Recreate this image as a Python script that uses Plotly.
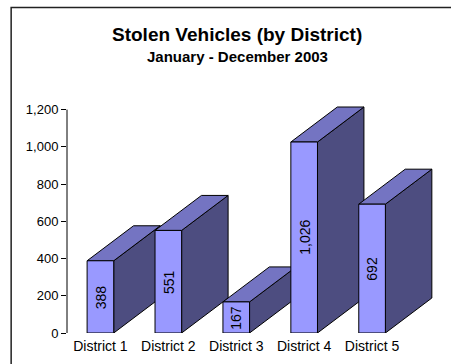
import plotly.graph_objects as go

# Stolen vehicles per district, Jan-Dec 2003
districts = ["District 1", "District 2", "District 3", "District 4", "District 5"]
stolen = [388, 551, 167, 1026, 692]
y_ticks = [0, 200, 400, 600, 800, 1000, 1200]
y_tick_text = ["0", "200", "400", "600", "800", "1,000", "1,200"]

FRONT = "#9999FF"
TOP = "#7474C2"
SIDE = "#4D4D80"
EDGE = "#000000"
FONT = "Liberation Sans, Arial, sans-serif"

# pseudo-3D box geometry in axis units
half_w = 0.196      # half width of the front face
depth_x = 0.684     # receding depth along x
depth_y = 188       # receding depth along y

# page layout (pixels)
W, H = 451, 364
ML, MR, MT, MB = 66.5, 10.5, 91, 31
PW, PH = W - ML - MR, H - MT - MB

fig = go.Figure()


def poly(xs, ys, color):
    fig.add_trace(go.Scatter(
        x=xs + [xs[0]], y=ys + [ys[0]], mode="lines", fill="toself",
        fillcolor=color, line=dict(color=EDGE, width=1),
        hoverinfo="skip", showlegend=False))


for i, v in enumerate(stolen):
    x0, x1 = i - half_w, i + half_w
    # right side face
    poly([x1, x1 + depth_x, x1 + depth_x, x1],
         [0, depth_y, v + depth_y, v], SIDE)
    # top face
    poly([x0, x1, x1 + depth_x, x0 + depth_x],
         [v, v, v + depth_y, v + depth_y], TOP)
    # front face
    poly([x0, x1, x1, x0], [0, 0, v, v], FRONT)
    # value label, rotated inside the front face
    fig.add_annotation(x=i, y=v / 2, xref="x", yref="y",
                       text=f"{v:,}", textangle=-90, showarrow=False,
                       font=dict(family=FONT, size=14, color="#000000"))

# y axis line only spans the labelled range
fig.add_shape(type="line", xref="paper", yref="y", x0=0, x1=0,
              y0=y_ticks[0], y1=y_ticks[-1],
              line=dict(color=EDGE, width=1))

# outer chart border
fig.add_shape(type="rect", xref="paper", yref="paper",
              x0=(10.5 - ML) / PW, x1=(W + 20 - ML) / PW,
              y0=(MB - 40 - MB) / PH, y1=(H - MB - 7.5) / PH,
              line=dict(color="#222222", width=1.5))

cx = (237 - ML) / PW
fig.add_annotation(x=cx, y=(H - MB - 34.5) / PH, xref="paper", yref="paper",
                   text="<b>Stolen Vehicles (by District)</b>", showarrow=False,
                   font=dict(family=FONT, size=19, color="#000000"),
                   xanchor="center", yanchor="middle")
fig.add_annotation(x=cx, y=(H - MB - 56.5) / PH, xref="paper", yref="paper",
                   text="<b>January - December 2003</b>", showarrow=False,
                   font=dict(family=FONT, size=15, color="#000000"),
                   xanchor="center", yanchor="middle")

fig.update_layout(
    width=W, height=H,
    margin=dict(l=ML, r=MR, t=MT, b=MB, pad=0, autoexpand=False),
    paper_bgcolor="#FFFFFF", plot_bgcolor="#FFFFFF",
    showlegend=False,
    xaxis=dict(range=[-0.492, 5.0], tickvals=list(range(len(districts))),
               ticktext=districts, showgrid=False, zeroline=False,
               showline=False, ticks="", ticklabelstandoff=3,
               automargin=False,
               tickfont=dict(family=FONT, size=14, color="#000000")),
    yaxis=dict(range=[0, 1300], tickvals=y_ticks, ticktext=y_tick_text,
               showgrid=False, zeroline=False, showline=False,
               ticks="outside", ticklen=5, tickcolor=EDGE, tickwidth=1,
               automargin=False,
               tickfont=dict(family=FONT, size=13, color="#000000")),
)

fig.write_html("out.html")
